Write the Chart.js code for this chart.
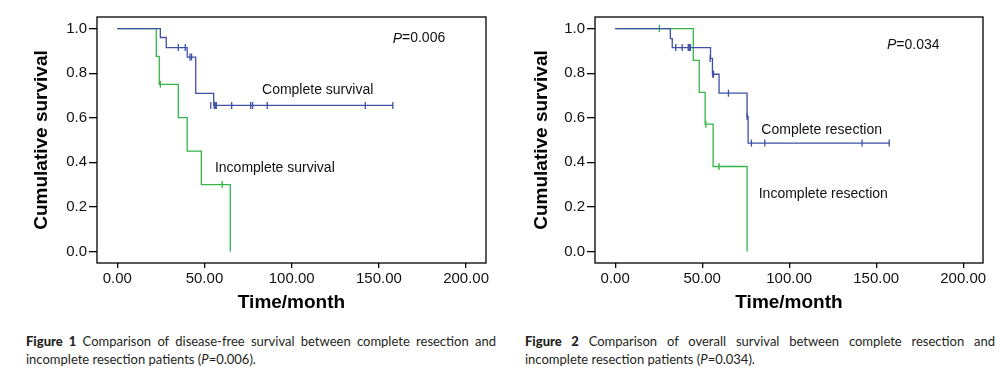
<!DOCTYPE html>
<html>
<head>
<title>Resection survival</title>
<script src="https://cdn.jsdelivr.net/npm/chart.js"></script>
<style>
    body { margin: 0; background: #fff; width: 1000px; height: 373px; position: relative; overflow: hidden; }
    canvas { position: absolute; top: 0; }
    #fig1 { left: 0; }
    #fig2 { left: 500px; }
    .cap { position: absolute; top: 332px; width: 470px; font-family: Lato, "Open Sans", sans-serif; font-size: 13px; line-height: 18px; color: #231f20; }
    .cap .l1 { text-align: justify; text-align-last: justify; }
    .cap b { font-weight: 900; }
</style>
</head>
<body>
<canvas id="fig1" width="500" height="320"></canvas>
<canvas id="fig2" width="500" height="320"></canvas>
<div class="cap" style="left:26px">
    <div class="l1"><b>Figure 1</b> Comparison of disease-free survival between complete resection and</div>
    <div>incomplete resection patients (<i>P</i>=0.006).</div>
</div>
<div class="cap" style="left:525px">
    <div class="l1"><b>Figure 2</b> Comparison of overall survival between complete resection and</div>
    <div>incomplete resection patients (<i>P</i>=0.034).</div>
</div>
<script>
    const xTicks = [0, 50, 100, 150, 200];
    const yTicks = [0, 0.2, 0.4, 0.6, 0.8, 1.0];

    // Figure 1 - disease-free survival (time of event, survival after it)
    const dfsCompleteTime = [0, 24.7, 28.1, 40.1, 45.0, 55.3, 158.0];
    const dfsCompleteSurv = [1, 0.96, 0.915, 0.872, 0.709, 0.655, 0.655];
    const dfsCompleteCensTime = [35.0, 39.0, 41.7, 42.6, 53.6, 55.6, 56.2, 56.8, 65.6, 76.5, 77.6, 86.0, 142.2, 158.0];
    const dfsCompleteCensSurv = [0.915, 0.915, 0.872, 0.872, 0.655, 0.655, 0.655, 0.655, 0.655, 0.655, 0.655, 0.655, 0.655, 0.655];
    const dfsIncompleteTime = [0, 22.4, 24.1, 35.0, 40.1, 48.2, 64.8];
    const dfsIncompleteSurv = [1, 0.875, 0.75, 0.6, 0.45, 0.3, 0];
    const dfsIncompleteCensTime = [24.7, 60.2];
    const dfsIncompleteCensSurv = [0.75, 0.3];
    const dfsNotes = ['Complete survival', 'Incomplete survival'];
    const dfsNoteX = [83, 56];
    const dfsNoteY = [0.724, 0.375];
    const dfsP = { x: 157.9, y: 0.955, text: '=0.006' };

    // Figure 2 - overall survival
    const osCompleteTime = [0, 31.7, 32.8, 54.8, 55.9, 59.7, 75.8, 76.4, 158.0];
    const osCompleteSurv = [1, 0.955, 0.915, 0.866, 0.795, 0.71, 0.605, 0.486, 0.486];
    const osCompleteCensTime = [34.8, 38.5, 42.0, 42.6, 43.2, 54.6, 56.1, 56.5, 65.1, 75.8, 78.3, 86.0, 141.9, 157.5];
    const osCompleteCensSurv = [0.915, 0.915, 0.915, 0.915, 0.915, 0.866, 0.795, 0.795, 0.71, 0.605, 0.486, 0.486, 0.486, 0.486];
    const osIncompleteTime = [0, 44.9, 48.3, 51.7, 56.3, 75.8];
    const osIncompleteSurv = [1, 0.857, 0.714, 0.571, 0.381, 0];
    const osIncompleteCensTime = [25.4, 52.1, 59.7];
    const osIncompleteCensSurv = [1, 0.571, 0.381];
    const osNotes = ['Complete resection', 'Incomplete resection'];
    const osNoteX = [84, 82.5];
    const osNoteY = [0.546, 0.259];
    const osP = { x: 156.2, y: 0.927, text: '=0.034' };

    const blue = '#3d50a6';
    const green = '#35b447';
    const font = 'Liberation Sans, Arial, sans-serif';

    function pts(times, surv) {
        return times.map((t, i) => ({ x: t, y: surv[i] }));
    }

    function stepSet(times, surv, color) {
        return { data: pts(times, surv), borderColor: color, borderWidth: 1.3, stepped: true, pointRadius: 0, fill: false };
    }

    function censSet(times, surv, color) {
        return { data: pts(times, surv), borderColor: color, showLine: false, pointStyle: 'line', rotation: 90, pointRadius: 3.5, borderWidth: 1.3 };
    }

    const frame = {
        id: 'frame',
        afterDraw(chart, args, opts) {
            const { ctx, chartArea: a, scales: { x, y } } = chart;
            ctx.save();
            ctx.strokeStyle = '#000';
            ctx.lineWidth = 1.3;
            ctx.strokeRect(a.left, a.top, a.width, a.height);
            ctx.fillStyle = '#111';
            ctx.textBaseline = 'middle';
            ctx.font = '14px ' + font;
            opts.notes.forEach((n, i) => {
                ctx.fillText(n, x.getPixelForValue(opts.noteX[i]), y.getPixelForValue(opts.noteY[i]));
            });
            const px = x.getPixelForValue(opts.p.x), py = y.getPixelForValue(opts.p.y);
            ctx.font = 'italic 14px ' + font;
            ctx.fillText('P', px, py);
            const w = ctx.measureText('P').width;
            ctx.font = '14px ' + font;
            ctx.fillText(opts.p.text, px + w, py);
            ctx.restore();
        }
    };

    function makeChart(id, sets, notes, noteX, noteY, p, yWidth, rightPad) {
        new Chart(document.getElementById(id).getContext('2d'), {
            type: 'line',
            data: { datasets: sets },
            plugins: [frame],
            options: {
                responsive: false,
                animation: false,
                layout: { padding: { left: 0, right: rightPad, top: 17, bottom: 5 } },
                plugins: {
                    legend: { display: false },
                    tooltip: { enabled: false },
                    frame: { notes: notes, noteX: noteX, noteY: noteY, p: p }
                },
                scales: {
                    x: {
                        type: 'linear',
                        min: -11.6,
                        max: 211.4,
                        afterBuildTicks: s => { s.ticks = xTicks.map(v => ({ value: v })); },
                        afterFit: s => { s.height = 52; },
                        grid: { drawOnChartArea: false, tickLength: 5, color: '#000', lineWidth: 1.3 },
                        border: { display: false },
                        ticks: { padding: 2, color: '#111', maxRotation: 0, autoSkip: false, font: { family: font, size: 15 }, callback: v => Number(v).toFixed(2) },
                        title: { display: true, text: 'Time/month', color: '#000', font: { family: font, size: 19, weight: 'bold', lineHeight: 1.2 }, padding: { top: 0, bottom: 1 } }
                    },
                    y: {
                        type: 'linear',
                        min: -0.052,
                        max: 1.052,
                        afterBuildTicks: s => { s.ticks = yTicks.map(v => ({ value: v })); },
                        afterFit: s => { s.width = yWidth; },
                        grid: { drawOnChartArea: false, tickLength: 8, color: '#000', lineWidth: 1.3 },
                        border: { display: false },
                        ticks: { padding: 2, color: '#111', autoSkip: false, font: { family: font, size: 15 }, callback: v => Number(v).toFixed(1) },
                        title: { display: true, text: 'Cumulative survival', color: '#000', font: { family: font, size: 19, weight: 'bold', lineHeight: 1.2 }, padding: { top: 30, bottom: 0 } }
                    }
                }
            }
        });
    }

    makeChart('fig1', [
        stepSet(dfsCompleteTime, dfsCompleteSurv, blue),
        censSet(dfsCompleteCensTime, dfsCompleteCensSurv, blue),
        stepSet(dfsIncompleteTime, dfsIncompleteSurv, green),
        censSet(dfsIncompleteCensTime, dfsIncompleteCensSurv, green)
    ], dfsNotes, dfsNoteX, dfsNoteY, dfsP, 97, 14);

    makeChart('fig2', [
        stepSet(osCompleteTime, osCompleteSurv, blue),
        censSet(osCompleteCensTime, osCompleteCensSurv, blue),
        stepSet(osIncompleteTime, osIncompleteSurv, green),
        censSet(osIncompleteCensTime, osIncompleteCensSurv, green)
    ], osNotes, osNoteX, osNoteY, osP, 95, 17);
</script>
</body>
</html>
